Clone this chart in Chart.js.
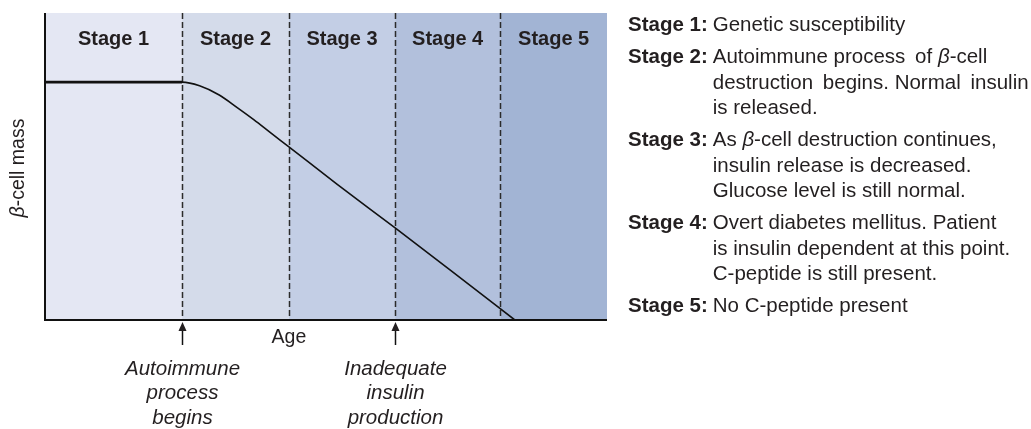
<!DOCTYPE html>
<html>
<head>
<meta charset="utf-8">
<title>Stages of type 1 diabetes</title>
<script src="https://cdn.jsdelivr.net/npm/chart.js@4"></script>
<style>
  body { margin: 0; background: #fff; }
  #wrap { position: relative; width: 1031px; height: 429px; overflow: hidden; }
  #notes {
    position: absolute; left: 628px; top: 11px;
    font: 20.5px "Liberation Sans", Arial, sans-serif; color: #231f20;
    line-height: 25.5px;
  }
  .entry { display: flex; margin-bottom: 6.5px; white-space: pre; }
  .entry b { margin-right: 5px; }
</style>
</head>
<body>
<div id="wrap">
  <canvas id="myChart"></canvas>
  <div id="notes"></div>
</div>
<script>
// stage boundaries along the age axis (0..100)
const stageEdges = [0, 24.4, 43.4, 62.3, 81.0, 100];
const stageNames = ['Stage 1', 'Stage 2', 'Stage 3', 'Stage 4', 'Stage 5'];
// beta-cell mass against age
const ageX = [0, 24.4, 27.5, 31, 34.2, 37.2, 40, 43.4, 52, 62.3, 72, 83.6];
const cellMass = [77.5, 77.5, 76.3, 73.3, 69.2, 65.2, 61.2, 56.4, 44.2, 30, 16.4, 0];
// events marked under the age axis
const markerAge = [24.4, 62.3];
const markerText = [['Autoimmune', 'process', 'begins'], ['Inadequate', 'insulin', 'production']];
// notes on the right (thin spaces keep the wider gaps of the original wording)
const noteLabels = ['Stage 1:', 'Stage 2:', 'Stage 3:', 'Stage 4:', 'Stage 5:'];
const noteLines = [
  ['Genetic susceptibility'],
  ['Autoimmune process\u2009 of <i>β</i>-cell', 'destruction\u2009 begins. Normal\u2009 insulin', 'is released.'],
  ['As <i>β</i>-cell destruction continues,', 'insulin release is decreased.', 'Glucose level is still normal.'],
  ['Overt diabetes mellitus. Patient', 'is insulin dependent at this point.', 'C-peptide is still present.'],
  ['No C-peptide present']
];

const stageColors = ['#e4e7f3', '#d4dbea', '#c3cee5', '#b2c0dc', '#a2b4d4'];
const FONT = '"Liberation Sans", Arial, sans-serif';
const INK = '#231f20';

const notes = document.getElementById('notes');
noteLabels.forEach((lab, i) => {
  const row = document.createElement('div');
  row.className = 'entry';
  row.innerHTML = '<b>' + lab + '</b><div>' + noteLines[i].join('<br>') + '</div>';
  notes.appendChild(row);
});

const stagePlugin = {
  id: 'stagePlugin',
  beforeDatasetsDraw(chart) {
    const { ctx, chartArea: a, scales: { x } } = chart;
    ctx.save();
    for (let i = 0; i < stageNames.length; i++) {
      const x0 = x.getPixelForValue(stageEdges[i]);
      const x1 = x.getPixelForValue(stageEdges[i + 1]);
      ctx.fillStyle = stageColors[i];
      ctx.fillRect(x0, a.top, x1 - x0, a.bottom - a.top);
    }
    // dashed dividers
    ctx.strokeStyle = '#2b2b2b';
    ctx.lineWidth = 1.5;
    ctx.setLineDash([6, 3]);
    for (let i = 1; i < stageEdges.length - 1; i++) {
      const px = Math.round(x.getPixelForValue(stageEdges[i])) + 0.5;
      ctx.beginPath();
      ctx.moveTo(px, a.top);
      ctx.lineTo(px, a.bottom);
      ctx.stroke();
    }
    ctx.restore();
  },
  afterDraw(chart) {
    const { ctx, chartArea: a, scales: { x } } = chart;
    ctx.save();
    // axes
    ctx.strokeStyle = '#111';
    ctx.lineWidth = 2;
    ctx.beginPath();
    ctx.moveTo(a.left, a.top);
    ctx.lineTo(a.left, a.bottom);
    ctx.lineTo(a.right, a.bottom);
    ctx.stroke();

    ctx.fillStyle = INK;
    ctx.textAlign = 'center';
    ctx.textBaseline = 'middle';
    ctx.font = 'bold 20px ' + FONT;
    for (let i = 0; i < stageNames.length; i++) {
      const cx = (x.getPixelForValue(stageEdges[i]) + x.getPixelForValue(stageEdges[i + 1])) / 2;
      ctx.fillText(stageNames[i], cx, a.top + 26);
    }

    ctx.font = '19.5px ' + FONT;
    ctx.fillText('Age', x.getPixelForValue(43.4), a.bottom + 18);

    // y title: italic beta then the rest
    ctx.save();
    ctx.translate(19, 168);
    ctx.rotate(-Math.PI / 2);
    ctx.textAlign = 'left';
    ctx.font = 'italic 19.5px ' + FONT;
    const wb = ctx.measureText('β').width;
    ctx.font = '19.5px ' + FONT;
    const wr = ctx.measureText('-cell mass').width;
    const start = -(wb + wr) / 2;
    ctx.font = 'italic 19.5px ' + FONT;
    ctx.fillText('β', start, 0);
    ctx.font = '19.5px ' + FONT;
    ctx.fillText('-cell mass', start + wb, 0);
    ctx.restore();

    // arrows and notes under the axis
    markerAge.forEach((age, i) => {
      const px = Math.round(x.getPixelForValue(age)) + 0.5;
      ctx.strokeStyle = '#111';
      ctx.lineWidth = 1.5;
      ctx.beginPath();
      ctx.moveTo(px, a.bottom + 25);
      ctx.lineTo(px, a.bottom + 8);
      ctx.stroke();
      ctx.beginPath();
      ctx.moveTo(px, a.bottom + 2);
      ctx.lineTo(px - 4, a.bottom + 11);
      ctx.lineTo(px + 4, a.bottom + 11);
      ctx.closePath();
      ctx.fill();
      ctx.font = 'italic 20.5px ' + FONT;
      markerText[i].forEach((t, j) => ctx.fillText(t, px, a.bottom + 49 + j * 24.5));
    });
    ctx.restore();
  }
};

const ctx = document.getElementById('myChart');
const myChart = new Chart(ctx, {
  type: 'line',
  data: {
    datasets: [{
      data: ageX.map((v, i) => ({ x: v, y: cellMass[i] })),
      borderColor: '#111',
      borderWidth: 1.6,
      cubicInterpolationMode: 'monotone',
      pointRadius: 0,
      fill: false,
      order: 2
    }, {
      data: ageX.slice(0, 2).map((v, i) => ({ x: v, y: cellMass[i] })),
      borderColor: '#111',
      borderWidth: 2.6,
      pointRadius: 0,
      fill: false,
      order: 1
    }]
  },
  options: {
    responsive: true,
    maintainAspectRatio: false,
    animation: false,
    layout: { padding: { left: 45, right: 424, top: 13, bottom: 109 } },
    plugins: { legend: { display: false }, tooltip: { enabled: false } },
    scales: {
      x: { type: 'linear', min: 0, max: 100, display: false },
      y: { min: 0, max: 100, display: false }
    }
  },
  plugins: [stagePlugin]
});
</script>
</body>
</html>
